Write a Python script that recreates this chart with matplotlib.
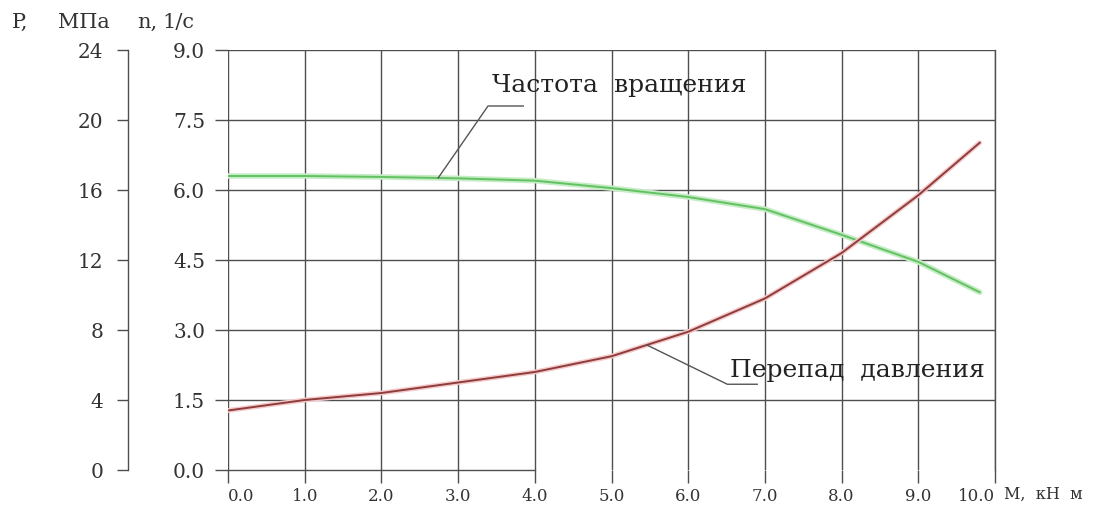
import matplotlib
matplotlib.use("Agg")
import matplotlib.pyplot as plt
import numpy as np

# ---- data ----
torque = [0.0, 1.0, 2.0, 3.0, 4.0, 5.0, 6.0, 7.0, 8.0, 9.0, 9.8]           # M, кН·м
speed = [6.30, 6.30, 6.28, 6.25, 6.20, 6.04, 5.85, 5.59, 5.04, 4.46, 3.81]  # n, 1/c
pressure = [3.4, 4.0, 4.4, 5.0, 5.6, 6.5, 7.9, 9.8, 12.4, 15.7, 18.7]       # P, МПа

x_ticks = [0.0, 1.0, 2.0, 3.0, 4.0, 5.0, 6.0, 7.0, 8.0, 9.0, 10.0]
n_ticks = [0.0, 1.5, 3.0, 4.5, 6.0, 7.5, 9.0]
p_ticks = [0, 4, 8, 12, 16, 20, 24]

label_speed = "Частота  вращения"
label_pressure = "Перепад  давления"
x_unit = "M,  кН  м"
p_unit_a = "P,"
p_unit_b = "МПа"
n_unit_a = "n,"
n_unit_b = "1/c"

W, H = 1097, 511
fig = plt.figure(figsize=(W / 100, H / 100), dpi=100)
plt.rcParams['font.family'] = ['DejaVu Serif']

grid_c = '#4e4e4e'
txt_c = '#333333'

left, right, bottom, top = 228 / W, 995 / W, 1 - 470 / H, 1 - 50 / H
ax = fig.add_axes([left, bottom, right - left, top - bottom])
ax.set_xlim(0, 10)
ax.set_ylim(0, 9)
ax.set_xticks(x_ticks)
ax.set_xticklabels([f"{v:.1f}" for v in x_ticks], fontsize=12, color=txt_c)
xl = ax.get_xticklabels()
xl[0].set_ha('left')
xl[-1].set_ha('right')
ax.set_yticks(n_ticks)
ax.set_yticklabels([f"{v:.1f}" for v in n_ticks], fontsize=14.5, color=txt_c)
ax.grid(True, color=grid_c, lw=1.0)
ax.yaxis.get_gridlines()[0].set_visible(False)
for s in ['left', 'top']:
    ax.spines[s].set_visible(False)
ax.spines['right'].set_color(grid_c)
ax.spines['right'].set_linewidth(1.0)
ax.spines['bottom'].set_color(grid_c)
ax.spines['bottom'].set_linewidth(1.0)
ax.spines['bottom'].set_bounds(0, 4)
ax.tick_params(axis='x', direction='out', length=9, width=1.0, color=grid_c, pad=4)
ax.tick_params(axis='y', direction='out', length=9.5, width=1.0, color=grid_c, pad=7)
ax.set_axisbelow(True)

# pressure overlay axis (0-24 MPa aligned to 0-9 1/c)
axp = ax.twinx()
axp.set_ylim(0, 24)
axp.set_axis_off()

ax.plot(torque, speed, color='#c6ecc6', lw=4.0, solid_capstyle='round', zorder=3)
ax.plot(torque, speed, color='#62c262', lw=1.4, zorder=4)
axp.plot(torque, pressure, color='#f4caca', lw=3.5, solid_capstyle='round', zorder=3)
axp.plot(torque, pressure, color='#8e3c3c', lw=1.4, zorder=4)

# leader + labels
xs = 2.74
ys = np.interp(xs, torque, speed)
ax.plot([xs, 3.39, 3.85], [ys, 7.8, 7.8], color='#555555', lw=1.0, zorder=5)
ax.text(3.44, 8.25, label_speed, fontsize=18, color='#222222', va='center', ha='left')

xp = 5.46
yp = np.interp(xp, torque, pressure)
axp.plot([xp, 6.51, 6.9], [yp, 4.9, 4.9], color='#555555', lw=1.0, zorder=5)
ax.text(6.54, 2.14, label_pressure, fontsize=18, color='#222222', va='center', ha='left')

# P axis
axP = fig.add_axes([128 / W, bottom, 0.001, top - bottom])
axP.set_ylim(0, 24)
axP.set_yticks(p_ticks)
axP.set_yticklabels([str(v) for v in p_ticks], fontsize=14.5, color=txt_c)
axP.set_xticks([])
for s in ['right', 'top', 'bottom']:
    axP.spines[s].set_visible(False)
axP.spines['left'].set_color(grid_c)
axP.spines['left'].set_linewidth(1.0)
axP.tick_params(axis='y', direction='out', length=8, width=1.0, color=grid_c, pad=10)
axP.patch.set_visible(False)

hy = 1 - 22 / H
fig.text(12 / W, hy, p_unit_a, fontsize=15, color=txt_c, va='center', ha='left')
fig.text(58 / W, hy, p_unit_b, fontsize=15, color=txt_c, va='center', ha='left')
fig.text(137 / W, hy, n_unit_a, fontsize=15, color=txt_c, va='center', ha='left')
fig.text(162 / W, hy, n_unit_b, fontsize=15, color=txt_c, va='center', ha='left')
fig.text(1004 / W, 1 - 494 / H, x_unit, fontsize=11.5, color=txt_c, va='center', ha='left')

fig.savefig("out.png", dpi=100)
